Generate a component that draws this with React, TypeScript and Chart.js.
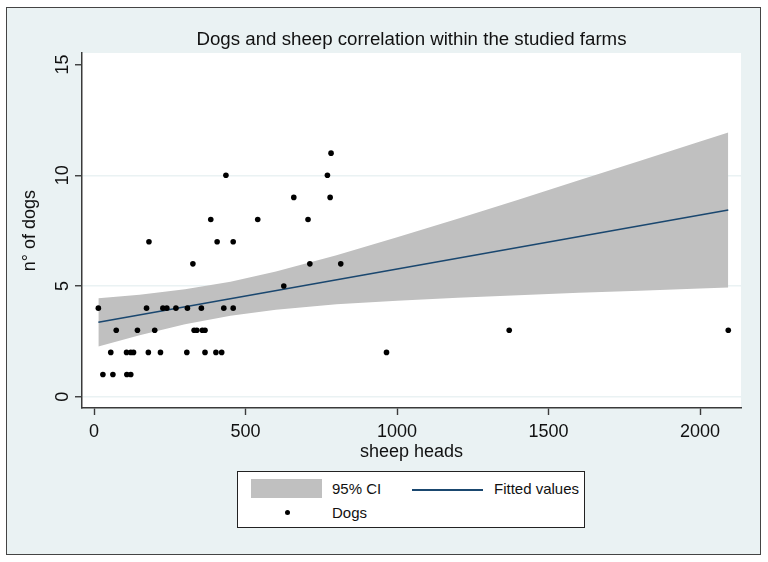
// Stata-style scatter with linear fit and 95% CI, drawn with chart.js
import { useEffect, useRef } from 'react';
import Chart from 'chart.js/auto';

// ============= DATA =============
const sheepHeads = [
    782,
    435, 770,
    659, 779,
    385, 540, 706,
    181, 406, 459,
    326, 712, 814,
    626,
    14, 173, 227, 240, 270, 308, 354, 428, 459,
    73, 143, 200, 330, 339, 357, 366, 1370, 2093,
    55, 107, 121, 130, 179, 219, 306, 366, 402, 421, 965,
    29, 62, 108, 121,
];
const dogCounts = [
    11,
    10, 10,
    9, 9,
    8, 8, 8,
    7, 7, 7,
    6, 6, 6,
    5,
    4, 4, 4, 4, 4, 4, 4, 4, 4,
    3, 3, 3, 3, 3, 3, 3, 3, 3,
    2, 2, 2, 2, 2, 2, 2, 2, 2, 2, 2,
    1, 1, 1, 1,
];

// 95% CI band, read at a few positions along x
const ciSheep = [14, 150, 300, 450, 600, 800, 1000, 1200, 1400, 1600, 1800, 2000, 2093];
const ciUpper = [4.45, 4.61, 4.85, 5.19, 5.65, 6.39, 7.2, 8.04, 8.9, 9.77, 10.64, 11.52, 11.93];
const ciLower = [2.27, 2.78, 3.27, 3.66, 3.93, 4.17, 4.33, 4.47, 4.58, 4.69, 4.79, 4.89, 4.93];

// fitted line end points
const fitSheep = [14, 2093];
const fitDogs = [3.36, 8.43];

const xTickValues = [0, 500, 1000, 1500, 2000];
const yTickValues = [0, 5, 10, 15];

const legendLabels = ['95% CI', 'Fitted values', 'Dogs'];

const FONT = "'Liberation Sans', Arial, sans-serif";
const BAND = '#c0c0c0';
const NAVY = '#1a476f';
const AXIS = '#3a3a3a';
const BG = '#eaf2f3';

const plotBackground = {
    id: 'plotBackground',
    beforeDraw(chart: Chart) {
        const { ctx, chartArea: a } = chart;
        ctx.save();
        ctx.fillStyle = '#ffffff';
        ctx.fillRect(a.left, a.top, a.right - a.left, a.bottom - a.top);
        ctx.restore();
    }
};

const toPoints = (xs: number[], ys: number[]) => xs.map((x, i) => ({ x, y: ys[i] }));

const ScatterFit = () => {
    const chartRef = useRef<HTMLCanvasElement>(null);
    const chartInstance = useRef<Chart | null>(null);

    useEffect(() => {
        if (!chartRef.current) return;
        if (chartInstance.current) chartInstance.current.destroy();

        const ctx = chartRef.current.getContext('2d');
        if (!ctx) return;

        const font = { family: FONT, size: 18 };

        chartInstance.current = new Chart(ctx, {
            type: 'scatter',
            data: {
                datasets: [
                    {
                        label: 'upper',
                        data: toPoints(ciSheep, ciUpper),
                        showLine: true,
                        borderWidth: 0,
                        borderColor: BAND,
                        pointRadius: 0,
                        fill: false,
                        order: 3
                    },
                    {
                        label: legendLabels[0],
                        data: toPoints(ciSheep, ciLower),
                        showLine: true,
                        borderWidth: 0,
                        borderColor: BAND,
                        backgroundColor: BAND,
                        pointRadius: 0,
                        fill: '-1',
                        order: 2
                    },
                    {
                        label: legendLabels[1],
                        data: toPoints(fitSheep, fitDogs),
                        showLine: true,
                        borderColor: NAVY,
                        borderWidth: 1.6,
                        pointRadius: 0,
                        order: 1
                    },
                    {
                        label: legendLabels[2],
                        data: toPoints(sheepHeads, dogCounts),
                        backgroundColor: '#000000',
                        borderWidth: 0,
                        pointRadius: 2.8,
                        order: 0
                    }
                ]
            },
            options: {
                animation: false,
                responsive: false,
                layout: { padding: { left: 0, right: 27, top: 0, bottom: 99.5 } },
                plugins: {
                    legend: { display: false },
                    tooltip: { enabled: false },
                    title: {
                        display: true,
                        text: 'Dogs and sheep correlation within the studied farms',
                        fullSize: false,
                        color: '#111',
                        font: { family: FONT, size: 18.7, weight: 'normal' },
                        padding: { top: 28.8, bottom: 1.8 }
                    }
                },
                scales: {
                    x: {
                        type: 'linear',
                        min: -40,
                        max: 2135,
                        afterFit: (s: any) => { s.height = 54.5; },
                        afterBuildTicks: (s: any) => { s.ticks = xTickValues.map(v => ({ value: v })); },
                        ticks: { color: '#111', font, padding: 6, autoSkip: false, callback: (v: any) => String(v) },
                        grid: { drawOnChartArea: false, tickLength: 7, tickColor: AXIS, tickWidth: 1.4 },
                        border: { color: AXIS, width: 1.5 },
                        title: { display: true, text: 'sheep heads', color: '#111', font, padding: 0 }
                    },
                    y: {
                        type: 'linear',
                        min: -0.51,
                        max: 15.52,
                        afterFit: (s: any) => { s.width = 82; },
                        afterBuildTicks: (s: any) => { s.ticks = yTickValues.map(v => ({ value: v })); },
                        ticks: {
                            minRotation: 90,
                            maxRotation: 90,
                            crossAlign: 'center',
                            autoSkip: false,
                            color: '#111',
                            font,
                            padding: 2,
                            callback: (v: any) => String(v)
                        },
                        grid: {
                            color: (c: any) => (c.tick && c.tick.value === 15 ? 'rgba(0,0,0,0)' : BG),
                            lineWidth: 1.5,
                            tickLength: 7,
                            tickColor: AXIS,
                            tickWidth: 1.4
                        },
                        border: { color: AXIS, width: 1.5 },
                        title: { display: true, text: 'n° of dogs', color: '#111', font, padding: { top: 19.2, bottom: 0 } }
                    }
                }
            },
            plugins: [plotBackground]
        });

        return () => {
            if (chartInstance.current) {
                chartInstance.current.destroy();
                chartInstance.current = null;
            }
        };
    }, []);

    const text: React.CSSProperties = {
        position: 'absolute',
        fontFamily: FONT,
        fontSize: 15,
        color: '#111',
        lineHeight: '18px',
        whiteSpace: 'nowrap'
    };

    return (
        <div style={{ position: 'fixed', left: 0, top: 0, width: 768, height: 562, background: '#fff' }}>
            <div style={{
                position: 'absolute', left: 6, top: 7, width: 753, height: 546,
                border: '1.5px solid #444', background: BG
            }} />
            <canvas ref={chartRef} width={768} height={562} style={{ position: 'absolute', left: 0, top: 0 }}></canvas>
            <div style={{
                position: 'absolute', left: 237, top: 471, width: 346, height: 55,
                border: '1.3px solid #222', background: '#fff'
            }}>
                <div style={{ position: 'absolute', left: 13, top: 7, width: 71, height: 19, background: BAND }} />
                <div style={{ ...text, left: 94, top: 8 }}>{legendLabels[0]}</div>
                <div style={{ position: 'absolute', left: 174, top: 17, width: 71, height: 1.6, background: NAVY }} />
                <div style={{ ...text, left: 256, top: 8 }}>{legendLabels[1]}</div>
                <div style={{ position: 'absolute', left: 47, top: 38, width: 5, height: 5, borderRadius: '50%', background: '#000' }} />
                <div style={{ ...text, left: 94, top: 32 }}>{legendLabels[2]}</div>
            </div>
        </div>
    );
};

export default function App() {
    return <ScatterFit />;
}
